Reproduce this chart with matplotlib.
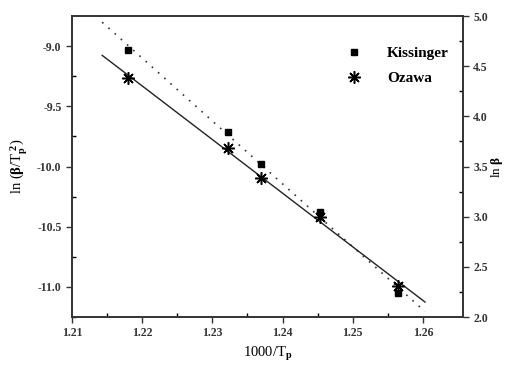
import matplotlib
matplotlib.use('Agg')
import matplotlib.pyplot as plt
import numpy as np

plt.rcParams['font.family'] = 'Liberation Serif'
plt.rcParams['font.weight'] = 'bold'
plt.rcParams['mathtext.fontset'] = 'custom'
plt.rcParams['mathtext.rm'] = 'Liberation Serif:bold'
plt.rcParams['mathtext.it'] = 'Liberation Serif:bold'
plt.rcParams['mathtext.bf'] = 'Liberation Serif:bold'

x_tp = [1.2180, 1.2323, 1.2370, 1.2453, 1.2565]
kissinger = [-9.03, -9.71, -9.98, -10.38, -11.05]
ozawa = [4.38, 3.68, 3.385, 3.00, 2.31]
fit_range = [1.2143, 1.2603]

fig = plt.figure(figsize=(5.07, 3.65), dpi=100)
ax = fig.add_axes([0.142, 0.1315, 0.771, 0.8245])
ax2 = ax.twinx()

xs = np.array(fit_range)
k_fit = np.polyfit(x_tp, kissinger, 1)
o_fit = np.polyfit(x_tp, ozawa, 1)

ax.plot(xs, np.polyval(k_fit, xs), color='#333333', lw=1.2, ls=(0, (1, 4)))
ax.plot(x_tp, kissinger, ls='none', marker='s', ms=4.5, color='black')
ax2.plot(xs, np.polyval(o_fit, xs), color='#222222', lw=1.0)
ax2.plot(x_tp, ozawa, ls='none', marker=(8, 2, 0), ms=9, mew=1.1, color='black')

ax.set_xlim(1.21, 1.2657)
ax.set_ylim(-11.25, -8.75)
ax2.set_ylim(2.0, 5.0)

ax.set_xticks([1.21, 1.22, 1.23, 1.24, 1.25, 1.26])
ax.set_xticks([1.215, 1.225, 1.235, 1.245, 1.255], minor=True)
ax.set_yticks([-11.0, -10.5, -10.0, -9.5, -9.0])
ax.set_yticks([-11.25, -10.75, -10.25, -9.75, -9.25], minor=True)
ax2.set_yticks([2.0, 2.5, 3.0, 3.5, 4.0, 4.5, 5.0])
ax2.set_yticks([2.25, 2.75, 3.25, 3.75, 4.25, 4.75], minor=True)
ax.set_xticklabels(['1.21', '1.22', '1.23', '1.24', '1.25', '1.26'])
ax.set_yticklabels(['-11.0', '-10.5', '-10.0', '-9.5', '-9.0'])
ax2.set_yticklabels(['2.0', '2.5', '3.0', '3.5', '4.0', '4.5', '5.0'])

for a in (ax, ax2):
    a.tick_params(which='major', direction='out', length=4, width=1, labelsize=8.5, colors='#333333')
    a.tick_params(which='minor', direction='in', length=3, width=1)
    for s in a.spines.values():
        s.set_linewidth(1.2)
        s.set_color('#333333')

ax.set_xlabel(r'1000/T$_\mathrm{p}$', fontsize=10.5, labelpad=4)
ax.set_ylabel(r'ln ($\beta$/T$_\mathrm{p}^{\ 2}$)', fontsize=10.5, labelpad=5)
ax2.set_ylabel(r'ln $\beta$', fontsize=9.5, labelpad=1)

h1 = plt.Line2D([], [], ls='none', marker='s', ms=4.5, color='black')
h2 = plt.Line2D([], [], ls='none', marker=(8, 2, 0), ms=9, mew=1.1, color='black')
fig.legend([h1, h2], ['Kissinger', 'Ozawa'], loc='upper left',
           bbox_to_anchor=(0.64, 0.91), frameon=False, fontsize=11,
           handletextpad=1.2, labelspacing=0.75)

fig.savefig('out.png', dpi=100)
